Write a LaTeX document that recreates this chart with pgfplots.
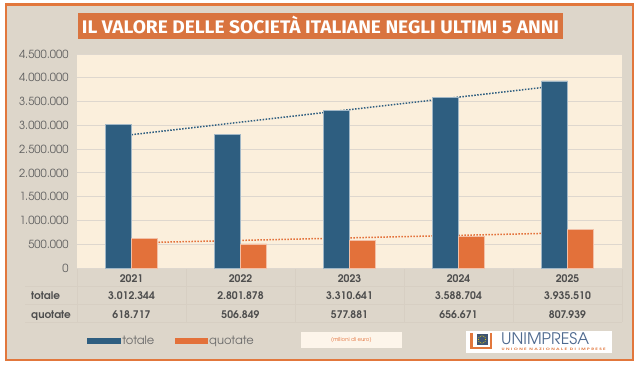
\documentclass[border=0pt]{standalone}
\usepackage{pgfplots}
\pgfplotsset{compat=1.18}
\usepackage{fontspec}
\setmainfont{texgyreadventor}[Extension=.otf, UprightFont=*-regular, BoldFont=*-bold, ItalicFont=*-italic, BoldItalicFont=*-bolditalic]
\newfontfamily\titlefont{Fira Sans}[FakeStretch=1.05]
\definecolor{bgbeige}{HTML}{DDD6CA}
\definecolor{frameor}{HTML}{E2773C}
\definecolor{titleor}{HTML}{D9743F}
\definecolor{cream}{HTML}{FBEFDC}
\definecolor{barblue}{HTML}{2E5E80}
\definecolor{barorange}{HTML}{E3713A}
\definecolor{gridc}{HTML}{DED7CE}
\definecolor{txt}{HTML}{4E4E4E}
\definecolor{tlines}{HTML}{D7CFC3}
\definecolor{logoblue}{HTML}{4F6A8F}
\pgfplotstableread{
x totale quotate
0 3012344 618717
1 2801878 506849
2 3310641 577881
3 3588704 656671
4 3935510 807939
}\datatable
\begin{document}
\begin{tikzpicture}[x=1bp,y=1bp]
\fill[white] (0,0) rectangle (640,368);
\fill[bgbeige] (6,8) rectangle (633,363.3);
\draw[frameor, line width=2.8bp] (6,8) rectangle (633,363.3);
\fill[titleor] (78,329) rectangle (563,354.5);
\node[anchor=base, text=white, font=\titlefont\bfseries\fontsize{18.3}{20}\selectfont, inner sep=0] at (320.5,334.7) {IL VALORE DELLE SOCIETÀ ITALIANE NEGLI ULTIMI 5 ANNI};
\begin{scope}[tlines, line width=0.5bp]
 \foreach \yy in {82,63.5,46} \draw (25,\yy) -- (622,\yy);
 \foreach \k in {0,...,5} \draw ({77+109*\k},99) -- ({77+109*\k},46);
\end{scope}
\node[anchor=base west, inner sep=0, text=txt, font=\bfseries\fontsize{10.5}{12}\selectfont] at (31,68.4) {totale};
\node[anchor=base west, inner sep=0, text=txt, font=\bfseries\fontsize{10.5}{12}\selectfont] at (31,49.8) {quotate};
\begin{axis}[
  at={(77bp,100bp)}, anchor=south west, scale only axis,
  width=545bp, height=214bp,
  xmin=-0.5, xmax=4.5, ymin=0, ymax=4500000,
  ytick distance=500000,
  xtick={0,...,4}, xticklabels={2021,2022,2023,2024,2025},
  xticklabel style={anchor=base, yshift=-14bp, text=txt, font=\bfseries\fontsize{10.5}{12}\selectfont},
  yticklabel style={text=txt!90, font=\fontsize{11.2}{12}\selectfont, xshift=-5bp,
     /pgf/number format/fixed, /pgf/number format/1000 sep={.}},
  /pgf/number format/assume math mode=true,
  scaled y ticks=false,
  axis line style={draw=none}, tick style={draw=none},
  ymajorgrids, grid style={gridc, line width=0.8bp},
  axis background/.style={fill=cream},
  clip=false,
  legend style={at={(0.0183,-0.341)}, anchor=west, draw=none, fill=none,
     font=\fontsize{11.5}{13}\selectfont, text=txt!85, inner sep=0pt,
     nodes={inner sep=1.6bp},
     /tikz/every even column/.append style={column sep=19bp}},
  legend columns=-1,
]
\addplot[forget plot, barblue, line width=1.5bp, dash pattern=on 1.5bp off 1.5bp] coordinates {(0,2803184) (4,3856447)};
\addplot[forget plot, barorange, line width=1.5bp, dash pattern=on 1.5bp off 1.5bp] coordinates {(0,527958) (4,739264)};
\addplot[ybar, bar width=26bp, bar shift=-13bp, fill=barblue, draw=barblue!45!white, line width=0.6bp,
  legend image code/.code={\fill[barblue] (0bp,-2.5bp) rectangle (33bp,2.5bp);}] table[x=x, y=totale] {\datatable};
\addlegendentry{totale}
\addplot[ybar, bar width=26bp, bar shift=13bp, fill=barorange, draw=barorange!45!white, line width=0.6bp,
  legend image code/.code={\fill[barorange] (0bp,-2.5bp) rectangle (32bp,2.5bp);}] table[x=x, y=quotate] {\datatable};
\addlegendentry{quotate}
\begin{scope}[every node/.style={anchor=base, inner sep=0, text=txt, font=\bfseries\fontsize{10.5}{12}\selectfont}]
\node at ([yshift=-31.6bp]axis cs:0,0) {3.012.344};
\node at ([yshift=-31.6bp]axis cs:1,0) {2.801.878};
\node at ([yshift=-31.6bp]axis cs:2,0) {3.310.641};
\node at ([yshift=-31.6bp]axis cs:3,0) {3.588.704};
\node at ([yshift=-31.6bp]axis cs:4,0) {3.935.510};
\node at ([yshift=-50.2bp]axis cs:0,0) {618.717};
\node at ([yshift=-50.2bp]axis cs:1,0) {506.849};
\node at ([yshift=-50.2bp]axis cs:2,0) {577.881};
\node at ([yshift=-50.2bp]axis cs:3,0) {656.671};
\node at ([yshift=-50.2bp]axis cs:4,0) {807.939};
\end{scope}
\end{axis}
% unit box
\fill[cream!60!white] (300.7,19.7) rectangle (402,36.3);
\node[text=barorange, font=\fontsize{5.5}{6}\selectfont, inner sep=0] at (351.4,28) {(milioni di euro)};
% logo
\fill[white] (466,14.7) rectangle (612,37.3);
\draw[frameor, line width=2.6bp] (471.5,35) -- (471.5,20) -- (491,20) -- (491,35);
\fill[logoblue!80!black] (476.5,23) rectangle (487.5,34);
\foreach \a in {0,30,...,330} \fill[yellow!80!orange] ({482+3.6*cos(\a)},{28.5+3.6*sin(\a)}) circle (0.45);
\node[anchor=base west, inner sep=0, text=logoblue, font=\fontsize{16}{17}\selectfont] at (501,23.8) {UNIMPRESA};
\node[anchor=base west, inner sep=0, text=frameor] at (501.5,17.2) {\resizebox{104bp}{2.4bp}{\bfseries U N I O N E\ \ N A Z I O N A L E\ \ D I\ \ I M P R E S E}};
\pgfresetboundingbox
\useasboundingbox (0,0) rectangle (640,368);
\end{tikzpicture}
\end{document}
